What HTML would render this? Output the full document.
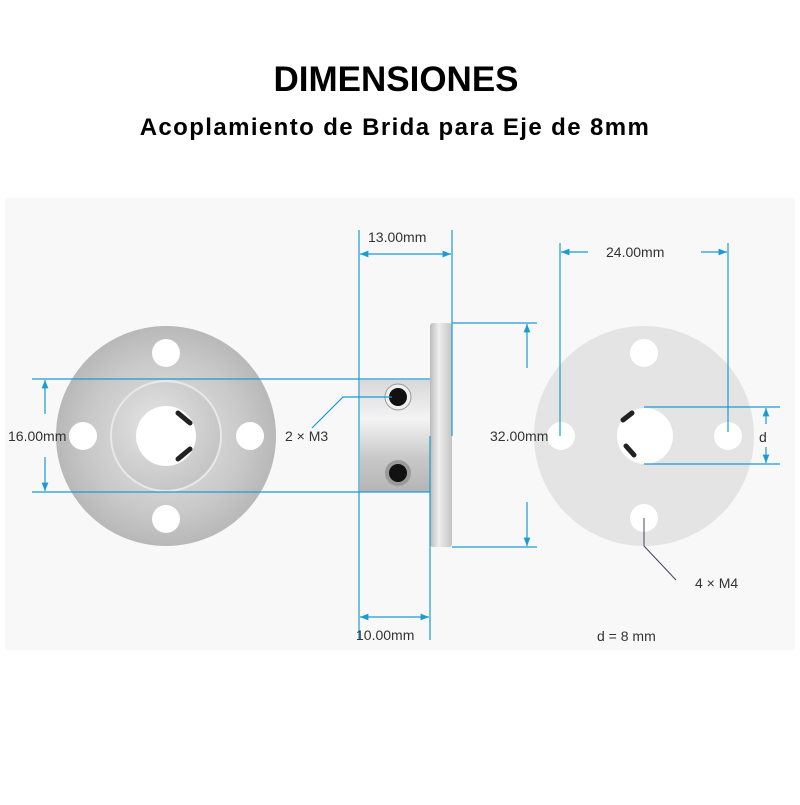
<!DOCTYPE html>
<html><head><meta charset="utf-8"><style>
body{margin:0;background:#fff;width:800px;height:800px;overflow:hidden;font-family:"Liberation Sans",sans-serif}
</style></head><body>
<svg width="800" height="800" viewBox="0 0 800 800" xmlns="http://www.w3.org/2000/svg">
<defs>
<radialGradient id="g1" cx="0.5" cy="0.5" r="0.5"><stop offset="0" stop-color="#e6e6e6"/><stop offset="0.7" stop-color="#c9c9c9"/><stop offset="1" stop-color="#b8b8b8"/></radialGradient>
<radialGradient id="g2" cx="0.4" cy="0.4" r="0.6"><stop offset="0" stop-color="#e4e4e4"/><stop offset="1" stop-color="#c6c6c6"/></radialGradient>
<linearGradient id="hub" x1="0" y1="0" x2="0" y2="1"><stop offset="0" stop-color="#d8d8d8"/><stop offset="0.35" stop-color="#f4f4f4"/><stop offset="0.7" stop-color="#c8c8c8"/><stop offset="1" stop-color="#b5b5b5"/></linearGradient>
<linearGradient id="pl" x1="0" y1="0" x2="1" y2="0"><stop offset="0" stop-color="#bbb"/><stop offset="0.4" stop-color="#eee"/><stop offset="1" stop-color="#c4c4c4"/></linearGradient>
<marker id="a" viewBox="0 0 10 10" refX="10" refY="5" markerWidth="7" markerHeight="7" orient="auto-start-reverse"><path d="M0,1 L10,5 L0,9 z" fill="#1a9bd4"/></marker>
</defs>
<rect x="5" y="198" width="790" height="452" fill="#f8f8f8"/>
<text x="396" y="91" text-anchor="middle" font-size="35" font-weight="bold" fill="#000">DIMENSIONES</text>
<text x="395" y="135" text-anchor="middle" font-size="24" font-weight="bold" letter-spacing="1.4" fill="#000">Acoplamiento de Brida para Eje de 8mm</text>

<!-- left flange -->
<circle cx="166" cy="436" r="110" fill="url(#g1)"/>
<circle cx="166" cy="436" r="55" fill="url(#g2)" stroke="#e8e8e8" stroke-width="2"/>
<circle cx="166" cy="436" r="30" fill="#fff"/>
<g fill="#fff"><circle cx="166" cy="353" r="14"/><circle cx="166" cy="519" r="14"/><circle cx="83" cy="436" r="14"/><circle cx="250" cy="436" r="14"/></g>
<path d="M178,413 L190,423 M178,459 L190,449" stroke="#222" stroke-width="5" stroke-linecap="round"/>

<!-- side view -->
<rect x="360" y="380" width="71" height="112" fill="url(#hub)"/>
<rect x="430" y="323" width="22" height="224" rx="3" fill="url(#pl)"/>
<circle cx="398" cy="397" r="13" fill="#f0f0f0" stroke="#999" stroke-width="1"/><circle cx="398" cy="397" r="9" fill="#111"/>
<circle cx="398" cy="473" r="13" fill="#9a9a9a"/><circle cx="398" cy="473" r="9" fill="#111"/>

<g stroke="#1a9bd4" stroke-width="1.2" fill="none">
<line x1="32" y1="379" x2="430" y2="379"/>
<line x1="32" y1="492" x2="430" y2="492"/>
<line x1="45" y1="380" x2="45" y2="414" marker-start="url(#a)"/>
<line x1="45" y1="457" x2="45" y2="491" marker-end="url(#a)"/>
<line x1="359" y1="230" x2="359" y2="640"/>
<line x1="452" y1="230" x2="452" y2="436"/>
<line x1="430" y1="436" x2="430" y2="640"/>
<line x1="360" y1="254" x2="451" y2="254" marker-start="url(#a)" marker-end="url(#a)"/>
<line x1="360" y1="617" x2="429" y2="617" marker-start="url(#a)" marker-end="url(#a)"/>
<line x1="452" y1="323" x2="537" y2="323"/>
<line x1="452" y1="547" x2="537" y2="547"/>
<line x1="527" y1="324" x2="527" y2="368" marker-start="url(#a)"/>
<line x1="527" y1="502" x2="527" y2="546" marker-end="url(#a)"/>
<polyline points="392,397 343,397 312,428"/>
</g>

<!-- right flange -->
<circle cx="644" cy="436" r="110" fill="#e4e4e4"/>
<circle cx="645" cy="436" r="28" fill="#fff"/>
<g fill="#fff"><circle cx="644" cy="353" r="14"/><circle cx="644" cy="518" r="14"/><circle cx="561" cy="436" r="14"/><circle cx="728" cy="436" r="14"/></g>
<path d="M632,413 L623,420 M626,446 L634,455" stroke="#222" stroke-width="5" stroke-linecap="round"/>
<g stroke="#1a9bd4" stroke-width="1.2" fill="none">
<line x1="560" y1="243" x2="560" y2="436"/>
<line x1="728" y1="243" x2="728" y2="432"/>
<line x1="561" y1="252" x2="588" y2="252" marker-start="url(#a)"/>
<line x1="701" y1="252" x2="727" y2="252" marker-end="url(#a)"/>
<line x1="644" y1="407" x2="780" y2="407"/>
<line x1="644" y1="464" x2="780" y2="464"/>
<line x1="766" y1="408" x2="766" y2="424" marker-start="url(#a)"/>
<line x1="766" y1="447" x2="766" y2="463" marker-end="url(#a)"/>
</g>
<polyline points="644,518 644,546 676,580" stroke="#446" stroke-width="1" fill="none"/>

<g font-size="14" fill="#333">
<text x="8" y="441">16.00mm</text>
<text x="285" y="441">2 × M3</text>
<text x="368" y="242">13.00mm</text>
<text x="356" y="640">10.00mm</text>
<text x="490" y="441">32.00mm</text>
<text x="606" y="257">24.00mm</text>
<text x="759" y="442">d</text>
<text x="695" y="588">4 × M4</text>
<text x="597" y="641">d = 8 mm</text>
</g>
</svg>
</body></html>
